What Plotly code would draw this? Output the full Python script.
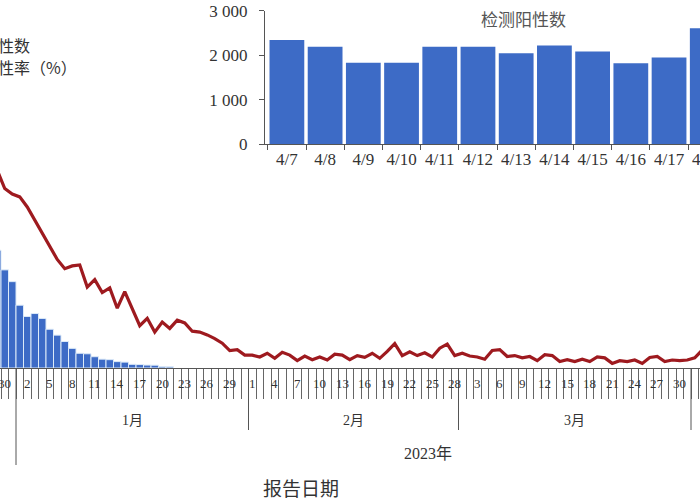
import plotly.graph_objects as go
import pandas as pd

# ---------------- data ----------------
# positivity rate (%) per report day, 2022-12-29 .. 2023-04-02
line_dates = pd.date_range("2022-12-29", "2023-04-02", freq="D")
rate_dec = [21.5, 19.5, 18.9]
rate_jan = [18.6, 17.5, 16.1, 14.7, 13.2, 11.8, 10.8, 11.1, 11.2, 8.8,
            9.6, 8.2, 8.7, 6.5, 8.3, 6.5, 4.6, 5.4, 3.9, 5.0,
            4.3, 5.2, 4.9, 4.0, 3.9, 3.6, 3.2, 2.7, 1.9, 2.0, 1.4]
rate_feb = [1.4, 1.2, 1.6, 1.05, 1.7, 1.4, 0.8, 1.3, 0.9, 1.2,
            0.87, 1.5, 1.4, 0.9, 1.35, 1.15, 1.6, 1.05, 1.8, 2.65,
            1.35, 1.75, 1.35, 1.65, 1.2, 2.15, 2.6, 1.35]
rate_mar = [1.6, 1.3, 1.2, 0.95, 1.9, 2.0, 1.25, 1.35, 1.1, 1.25,
            0.8, 1.45, 1.35, 0.7, 0.9, 0.7, 0.95, 0.7, 1.2, 1.1,
            0.5, 0.8, 0.7, 0.87, 0.5, 1.15, 1.25, 0.7, 0.87, 0.8, 0.87]
rate_apr = [1.1, 1.95]
rate_pct = rate_dec + rate_jan + rate_feb + rate_mar + rate_apr

# positive counts (visible part of the main chart)
bar_dates = pd.date_range("2022-12-29", "2023-01-21", freq="D")
positives = [240000, 200000, 176000, 128000, 105000, 111000, 101000, 79000,
             67000, 54000, 40000, 30000, 29000, 23000, 18000, 17000,
             13000, 12000, 7500, 7000, 6000, 5700, 2700, 2400]

# inset: daily positives in April
inset_days = ["4/7", "4/8", "4/9", "4/10", "4/11", "4/12", "4/13",
              "4/14", "4/15", "4/16", "4/17", "4/18"]
inset_pos = [2340, 2190, 1830, 1830, 2190, 2190, 2040, 2215, 2080, 1815, 1945, 2605]
inset_ticks = [0, 1000, 2000, 3000]
inset_ticktext = ["0", "1 000", "2 000", "3 000"]

# axis labels
label_dates = pd.date_range("2022-12-30", "2023-04-02", freq="3D")
day_labels = [str(d.day) for d in label_dates]
month_centers = ["2023-01-16", "2023-02-14 12:00", "2023-03-16"]
month_labels = ["1月", "2月", "3月"]
month_bounds = ["2023-01-31 12:00", "2023-02-28 12:00", "2023-03-31 12:00"]
year_bound = "2022-12-31 12:00"
year_label = "2023年"
year_pos = "2023-02-24 10:00"

# ---------------- styling ----------------
BLUE = "#3d6bc6"
RED = "#9e1a1f"
TXT = "#333333"
AX = "#555555"
SERIF = "Liberation Serif, Times New Roman, Noto Sans CJK SC"
CJK = "Noto Sans CJK SC"

x_range = ["2022-12-29 08:48", "2023-04-01 16:48"]
main_bottom = 0.264
inset_xdom = [265 / 700, 1.0]
inset_ydom = [0.712, 0.9786]
inset_xrange = [-0.573, 10.81]

fig = go.Figure()

fig.add_trace(go.Bar(
    x=bar_dates, y=positives, width=86400000,
    marker=dict(color=BLUE, line=dict(color="#dceaf8", width=1)),
    xaxis="x", yaxis="y", showlegend=False))

fig.add_trace(go.Scatter(
    x=line_dates, y=rate_pct, mode="lines",
    line=dict(color=RED, width=3.2), xaxis="x", yaxis="y2",
    showlegend=False))

fig.add_trace(go.Bar(
    x=inset_days, y=inset_pos, width=0.91,
    marker=dict(color=BLUE, line=dict(width=0)),
    xaxis="x2", yaxis="y3", showlegend=False))

# tick boundaries for every day
bounds = pd.date_range("2022-12-28 12:00", "2023-04-01 12:00", freq="D")

fig.update_layout(
    width=700, height=500,
    margin=dict(l=0, r=0, t=0, b=0),
    paper_bgcolor="white", plot_bgcolor="rgba(0,0,0,0)",
    font=dict(family=SERIF, color=TXT),
    xaxis=dict(type="date", domain=[0, 1], range=x_range, anchor="y",
               showgrid=False, zeroline=False, showline=True, linecolor=AX,
               linewidth=1, ticks="outside", ticklen=30, tickcolor="#666666",
               tickwidth=1, tickmode="array", tickvals=list(bounds),
               showticklabels=False, automargin=False),
    yaxis=dict(domain=[main_bottom, 1], range=[0, 750000], visible=False,
               showgrid=False, zeroline=False, anchor="x"),
    yaxis2=dict(overlaying="y", range=[0, 40], visible=False,
                showgrid=False, zeroline=False, anchor="x"),
    xaxis2=dict(type="category", domain=inset_xdom, range=inset_xrange,
                anchor="y3", showgrid=False, zeroline=False, showline=True,
                linecolor=AX, linewidth=1, ticks="outside", ticklen=5,
                tickcolor=AX, tickson="boundaries", tickangle=0,
                tickfont=dict(family=SERIF, size=17, color=TXT),
                automargin=False),
    yaxis3=dict(domain=inset_ydom, range=[0, 3000], anchor="x2",
                showgrid=False, zeroline=False, showline=True, linecolor=AX,
                linewidth=1, ticks="outside", ticklen=5, tickcolor=AX,
                tickmode="array", tickvals=inset_ticks, ticktext=inset_ticktext,
                tickfont=dict(family=SERIF, size=17, color=TXT),
                ticklabelstandoff=8, automargin=False),
)

ann = []
for d, t in zip(label_dates, day_labels):
    ann.append(dict(x=d, y=(500 - 383) / 500, xref="x", yref="paper",
                    text=t, showarrow=False, xanchor="center", yanchor="middle",
                    font=dict(family=SERIF, size=13, color=TXT)))
for c, t in zip(month_centers, month_labels):
    ann.append(dict(x=c, y=(500 - 420) / 500, xref="x", yref="paper",
                    text=t, showarrow=False, xanchor="center", yanchor="middle",
                    font=dict(family=SERIF, size=14, color=TXT)))
ann.append(dict(x=year_pos, y=(500 - 453) / 500, xref="x", yref="paper",
                text=year_label, showarrow=False, xanchor="center",
                yanchor="middle", font=dict(family=SERIF, size=16, color=TXT)))
ann.append(dict(x=301 / 700, y=(500 - 487) / 500, xref="paper", yref="paper",
                text="报告日期", showarrow=False, xanchor="center",
                yanchor="middle", font=dict(family=CJK, size=19, color=TXT)))
# legend texts (cut at the left edge, as in the reference)
ann.append(dict(x=-52 / 700, y=(500 - 45) / 500, xref="paper", yref="paper",
                text="检测阳性数", showarrow=False, xanchor="left",
                yanchor="middle", font=dict(family=CJK, size=16, color=TXT)))
ann.append(dict(x=-52 / 700, y=(500 - 66.5) / 500, xref="paper", yref="paper",
                text="检测阳性率（%）", showarrow=False, xanchor="left",
                yanchor="middle", font=dict(family=CJK, size=16, color=TXT)))
# inset title
ann.append(dict(x=523 / 700, y=(500 - 18) / 500, xref="paper", yref="paper",
                text="检测阳性数", showarrow=False, xanchor="center",
                yanchor="middle", font=dict(family=CJK, size=17, color="#555555")))
# partially visible last inset label, placed through the inset axis mapping
i_last = len(inset_days) - 1
frac = (i_last - inset_xrange[0]) / (inset_xrange[1] - inset_xrange[0])
ann.append(dict(x=inset_xdom[0] + frac * (inset_xdom[1] - inset_xdom[0]),
                y=(500 - 160) / 500, xref="paper", yref="paper",
                text=inset_days[-1], showarrow=False, xanchor="center",
                yanchor="middle", font=dict(family=SERIF, size=17, color=TXT)))
fig.update_layout(annotations=ann)

shapes = [dict(type="line", xref="x", yref="paper", x0=year_bound, x1=year_bound,
               y0=main_bottom, y1=(500 - 465) / 500,
               line=dict(color=AX, width=1))]
for b in month_bounds:
    shapes.append(dict(type="line", xref="x", yref="paper", x0=b, x1=b,
                       y0=main_bottom, y1=(500 - 430) / 500,
                       line=dict(color=AX, width=1)))
fig.update_layout(shapes=shapes)

fig.write_html("out.html", config={"displayModeBar": False},
               post_script="document.body.style.margin='0';")
